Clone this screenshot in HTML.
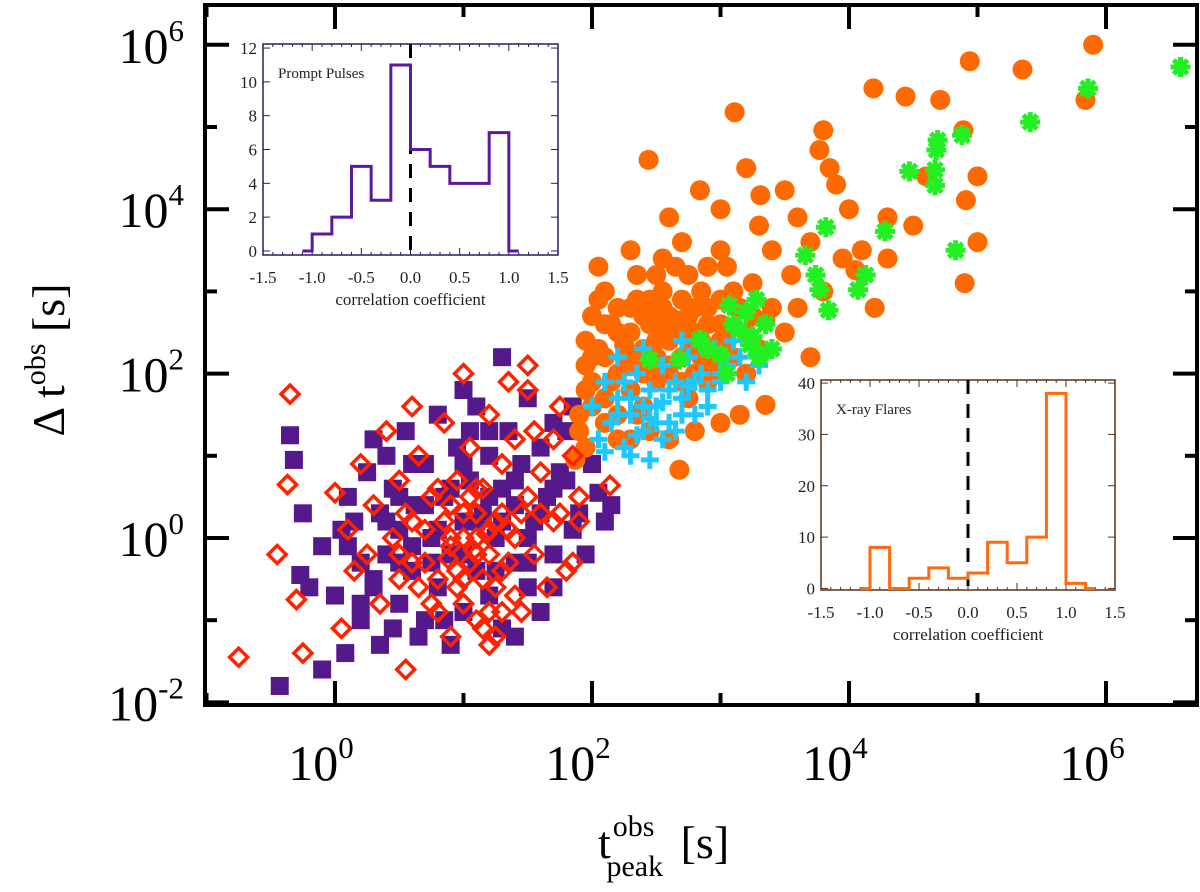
<!DOCTYPE html>
<html><head><meta charset="utf-8"><style>
html,body{margin:0;padding:0;background:#fff;}
svg{display:block;font-family:"Liberation Serif",serif;}
</style></head><body>
<svg id="chart" width="1200" height="892" viewBox="0 0 1200 892" xmlns="http://www.w3.org/2000/svg">
<g id="marks"></g>
<rect x="205" y="5" width="992" height="700" fill="none" stroke="#000" stroke-width="4"/>
<g id="axes"></g>
<text transform="translate(64,360) rotate(-90)" font-size="46" text-anchor="middle">Δ t<tspan font-size="30" dy="-19">obs</tspan><tspan dy="19"> [s]</tspan></text>
<text x="598" y="858" font-size="46">t<tspan font-size="30" dx="2" dy="-22">obs</tspan><tspan font-size="30" dx="-48" dy="40">peak</tspan><tspan dy="-18" dx="6"> [s]</tspan></text>
<g id="inset1"></g>
<g id="inset2"></g>
</svg>
<script>
// log10 values [log t_peak, log Δt]
const purplePulses=[[-0.35,1.25],[-0.32,0.95],[-0.43,-1.8],[-0.27,-0.45],[-0.1,-1.6],[-0.2,-0.6],[0.08,-1.4],[0.1,-0.1],[0.1,0.5],[0.15,0.2],[0.2,-0.3],[0.25,0.8],[0.3,-0.6],[0.35,0.3],[0.4,1.0],[0.4,-0.2],[0.45,0.6],[0.5,-0.8],[0.5,0.1],[0.55,1.3],[0.6,-0.4],[0.62,0.4],[0.7,0.9],[0.7,-1.0],[0.75,0.0],[0.8,1.5],[0.8,-0.6],[0.85,0.5],[0.9,-0.2],[0.95,1.1],[1.0,0.2],[1.0,-0.9],[1.05,0.7],[1.1,-0.4],[1.1,1.6],[1.15,0.3],[1.2,-0.7],[1.2,1.0],[1.25,0.0],[1.3,0.6],[1.3,-1.1],[1.35,1.3],[1.4,-0.3],[1.4,0.4],[1.45,0.9],[1.5,-0.6],[1.5,1.7],[1.55,0.2],[1.6,-0.9],[1.6,1.1],[1.65,0.5],[1.7,-0.2],[1.75,0.8],[1.8,1.3],[1.85,0.1],[1.3,2.2],[0.65,-1.2],[0.9,-1.3],[0.3,1.2],[0.0,-0.7],[0.2,-1.0],[1.0,1.8],[0.45,-1.1],
[0.3,-0.5],[0.4,0.2],[0.5,0.5],[0.6,-0.1],[0.7,0.4],[0.8,0.1],[0.9,0.6],[1.0,0.9],[1.1,0.2],[1.2,0.5],[1.3,0.2],[1.4,0.7],[1.5,0.0],[1.6,0.3],[1.7,0.6],[1.8,0.7],[1.9,0.3],[2.0,0.9],[2.1,0.2],[2.15,0.4],[0.5,-0.3],[0.75,-0.3],[1.0,-0.2],[1.25,-0.4],[1.5,-0.3],[1.7,-0.6],[0.2,-0.8],[0.35,-1.3],[1.85,1.6],[1.7,1.4],[1.2,1.3],[0.05,0.1],[-0.25,0.3],[-0.1,-0.1],[1.95,-0.2],[1.4,-1.2],[0.85,-1.0],[2.05,0.55],[0.6,0.9],[1.05,1.3]];
const redPulses=[[-0.75,-1.45],[-0.35,1.75],[-0.37,0.65],[-0.45,-0.2],[-0.3,-0.75],[-0.25,-1.4],[0.0,0.55],[0.05,-1.1],[0.1,0.1],[0.15,-0.4],[0.2,0.9],[0.25,-0.2],[0.3,0.4],[0.35,-0.8],[0.4,1.3],[0.45,0.0],[0.5,-0.5],[0.5,0.7],[0.55,-1.6],[0.6,0.2],[0.65,1.0],[0.7,-0.3],[0.75,0.5],[0.8,-0.9],[0.85,1.4],[0.9,0.0],[0.95,0.7],[1.0,-0.5],[1.0,0.3],[1.05,1.1],[1.1,-0.2],[1.1,0.6],[1.15,-1.1],[1.2,0.1],[1.2,1.5],[1.25,-0.6],[1.3,0.9],[1.3,0.3],[1.35,-0.3],[1.4,1.2],[1.45,-0.9],[1.5,0.5],[1.5,1.8],[1.55,-0.2],[1.6,0.8],[1.65,-0.6],[1.7,1.2],[1.7,0.2],[1.8,-0.4],[1.85,1.0],[1.9,0.5],[1.5,2.1],[1.2,-1.3],[0.9,-1.2],[1.0,2.0],[0.6,1.6],[1.35,1.9],[1.75,1.6],[1.1,0.0],
[0.6,-0.3],[0.7,0.1],[0.8,-0.5],[0.85,0.2],[0.9,-0.1],[0.95,-0.6],[1.0,0.0],[1.05,-0.3],[1.1,0.3],[1.15,-0.5],[1.2,-0.2],[1.25,0.2],[1.3,-0.4],[1.35,0.1],[1.4,-0.7],[1.45,0.3],[0.75,-0.8],[0.9,0.4],[1.0,-0.8],[1.1,-1.0],[1.2,-0.9],[1.3,-0.9],[1.15,0.6],[0.8,0.6],[0.55,0.3],[0.65,-0.6],[1.05,0.5],[1.25,-1.2],[1.4,0.0],[0.95,-0.4],[1.08,-0.15],[0.88,-0.25],[1.18,0.05],[0.5,-0.2],[1.6,0.3],[1.75,0.3],[1.85,-0.3],[1.55,1.3],[1.9,0.2],[2.14,0.64]];
const orangeFlares=[[5.9,6.0],[5.35,5.7],[5.84,5.33],[4.94,5.8],[4.44,5.37],[4.19,5.47],[4.71,5.33],[4.89,4.96],[4.91,4.11],[4.05,3.26],[3.77,4.72],[3.8,4.96],[3.85,4.5],[3.11,5.18],[2.44,4.6],[3.5,4.23],[3.31,4.17],[2.84,4.23],[3.0,4.0],[3.2,4.5],[2.6,3.9],[2.7,3.6],[3.6,3.9],[3.9,4.3],[4.3,3.9],[4.6,4.4],[4.0,4.0],[3.4,3.5],[2.9,3.3],[2.5,3.2],[2.3,3.5],[2.1,3.0],[1.95,2.4],[2.0,2.7],[2.1,2.2],[2.2,2.5],[2.3,2.8],[2.4,2.3],[2.5,2.7],[2.6,2.4],[2.7,2.9],[2.8,2.5],[2.9,2.8],[3.0,2.6],[3.1,3.0],[2.2,2.0],[2.3,1.8],[2.4,1.6],[2.5,1.9],[2.6,2.1],[2.7,2.2],[2.8,2.0],[2.9,2.3],[3.0,2.2],[3.2,2.5],[3.35,2.65],[3.35,1.62],[2.68,0.83],[1.87,0.95],[1.9,1.3],[2.0,1.6],[2.1,1.4],[2.0,1.9],[2.2,1.2],[2.35,2.2],[2.45,2.9],[2.55,3.0],[2.75,2.7],[2.85,3.0],[3.05,3.3],[3.15,2.8],[3.25,3.1],[2.65,3.3],[2.15,2.6],[1.95,2.1],[2.05,2.9],[2.75,1.7],[2.9,1.9],[2.35,1.5],[3.55,3.2],[3.7,3.6],[4.1,3.5],[4.5,3.8],[5.0,4.4],[3.95,3.4],[2.55,2.5],[2.25,2.35],[2.45,2.05],[2.65,2.65],[2.85,2.4],
[1.9,1.5],[1.95,1.8],[2.05,2.3],[2.1,2.6],[2.15,1.9],[2.2,2.8],[2.25,2.2],[2.3,2.5],[2.35,2.9],[2.4,2.0],[2.45,2.6],[2.5,2.2],[2.55,2.8],[2.6,2.0],[2.65,2.5],[2.7,1.9],[2.75,2.4],[2.8,2.8],[2.85,2.2],[2.9,2.6],[2.95,2.0],[3.0,2.9],[3.05,2.4],[3.1,2.2],[3.2,2.0],[3.25,2.7],[3.3,2.3],[3.4,2.8],[3.5,2.5],[2.0,2.2],[2.1,1.7],[2.2,1.5],[2.3,2.1],[2.4,2.7],[2.5,2.4],[2.6,2.7],[2.7,2.6],[2.8,2.3],[2.9,2.1],[3.0,2.4],[2.45,1.3],[2.6,1.2],[2.8,1.3],[3.0,1.4],[3.15,1.5],[2.3,1.2],[1.95,1.1],[2.05,3.3],[2.35,3.2],[2.55,3.4],[2.75,3.2],[3.0,3.5],[3.3,3.8],[3.6,2.8],[3.7,2.2],[3.8,3.0],[4.2,2.8],[4.3,3.4],[4.9,3.1],[5.0,3.6]];
const cyanFlares=[[2.0,1.6],[2.05,1.2],[2.1,1.9],[2.15,1.4],[2.2,1.7],[2.25,1.1],[2.3,1.5],[2.35,2.0],[2.4,1.3],[2.45,1.8],[2.5,1.6],[2.55,2.1],[2.6,1.4],[2.65,1.9],[2.7,1.7],[2.75,2.2],[2.8,1.5],[2.85,2.0],[2.9,1.8],[2.95,2.3],[3.0,1.9],[3.05,2.1],[3.1,2.4],[2.2,2.2],[2.3,1.0],[2.45,0.95],[2.55,1.2],[2.1,1.05],[2.4,2.3],[2.7,2.4],
[2.2,1.5],[2.3,1.7],[2.4,1.6],[2.5,1.4],[2.6,1.8],[2.7,1.5],[2.8,1.9],[2.9,1.6],[3.0,2.0],[2.35,1.25],[2.55,1.65],[2.65,1.3],[2.45,1.45],[2.75,1.85],[3.15,2.2],[3.3,2.1],[2.25,1.9],[2.85,2.35],[3.2,1.9]];
const greenFlares=[[6.58,5.73],[5.86,5.47],[5.41,5.06],[4.88,4.9],[4.69,4.84],[4.68,4.72],[4.67,4.48],[4.67,4.29],[4.47,4.46],[4.28,3.73],[4.83,3.5],[3.82,3.78],[3.66,3.44],[3.74,3.2],[3.77,3.02],[3.84,2.77],[4.07,3.02],[4.13,3.2],[3.07,2.83],[3.15,2.53],[3.23,2.35],[3.31,2.23],[2.84,2.41],[2.68,2.17],[2.45,2.17],[3.0,2.23],
[3.1,2.6],[3.25,2.45],[3.3,2.2],[3.2,2.75],[3.4,2.3],[3.35,2.6],[2.9,2.3],[3.05,2.0],[3.28,2.9]];
const xTickExps=[0,2,4,6];
const yTickExps=[-2,0,2,4,6];
const histBinsPrompt=[-1.1,-1.0,-0.8,-0.6,-0.4,-0.2,0.0,0.2,0.4,0.6,0.8,1.0,1.1];
const histCountsPrompt=[0,1,2,5,3,11,6,5,4,4,7,0];
const histBinsXray=[-1.1,-1.0,-0.8,-0.6,-0.4,-0.2,0.0,0.2,0.4,0.6,0.8,1.0,1.2,1.3];
const histCountsXray=[0,8,0,2,4,2,3,9,5,10,38,1,0];
const insetXTicks=["-1.5","-1.0","-0.5","0.0","0.5","1.0","1.5"];
const promptYTicks=[0,2,4,6,8,10,12];
const xrayYTicks=[0,10,20,30,40];

const NS="http://www.w3.org/2000/svg";
function mk(tag,attrs,parent){const e=document.createElementNS(NS,tag);for(const k in attrs)e.setAttribute(k,attrs[k]);parent.appendChild(e);return e;}
const X=lx=>335+128.5*lx;
const Y=ly=>538-82.2*ly;
const marks=document.getElementById('marks');
purplePulses.forEach(p=>{const e=mk('rect',{x:X(p[0])-9,y:Y(p[1])-9,width:18,height:18,fill:'#55198b'},marks);

});
orangeFlares.forEach(p=>{const e=mk('circle',{cx:X(p[0]),cy:Y(p[1]),r:10,fill:'#ff6a00'},marks);

});
redPulses.forEach(p=>{const x=X(p[0]),y=Y(p[1]);const e=mk('polygon',{points:`${x},${y-9} ${x+9},${y} ${x},${y+9} ${x-9},${y}`,fill:'none',stroke:'#ff2200','stroke-width':3.5},marks);

});
cyanFlares.forEach(p=>{const x=X(p[0]),y=Y(p[1]);const e=mk('path',{d:`M${x-9},${y}H${x+9}M${x},${y-9}V${y+9}`,stroke:'#1ec8ff','stroke-width':5},marks);

});
greenFlares.forEach(p=>{const x=X(p[0]),y=Y(p[1]);const d=`M${x-10},${y}H${x+10}M${x},${y-10}V${y+10}M${x-7},${y-7}L${x+7},${y+7}M${x-7},${y+7}L${x+7},${y-7}`;const e=mk('path',{d:d,stroke:'#22f022','stroke-width':5},marks);

});

const axes=document.getElementById('axes');
for(let d=-1;d<=6;d++){const x=X(d);const L=d%2===0?24:12;
mk('line',{x1:x,y1:705,x2:x,y2:705-L,stroke:'#000','stroke-width':4},axes);
mk('line',{x1:x,y1:5,x2:x,y2:5+L,stroke:'#000','stroke-width':4},axes);}
for(let d=-2;d<=6;d++){const y=Y(d);const L=d%2===0?24:12;
mk('line',{x1:205,y1:y,x2:205+L,y2:y,stroke:'#000','stroke-width':4},axes);
mk('line',{x1:1197,y1:y,x2:1197-L,y2:y,stroke:'#000','stroke-width':4},axes);}
xTickExps.forEach(d=>{const t=mk('text',{x:X(d)-14,y:780,'font-size':50,'text-anchor':'middle'},axes);t.innerHTML=`10<tspan font-size="31" dy="-22">${d}</tspan>`;

});
yTickExps.forEach(d=>{const t=mk('text',{x:184,y:Y(d)+18,'font-size':50,'text-anchor':'end'},axes);t.innerHTML=`10<tspan font-size="31" dy="-22">${d}</tspan>`;

});

function inset(g,box,ymin,ymax,bins,counts,yticks,color,frame,label){
 const gx=v=>box.x+(v+1.5)/3*box.w, gy=v=>box.y+box.h-(v-ymin)/(ymax-ymin)*box.h;
 mk('rect',{x:box.x,y:box.y,width:box.w,height:box.h,fill:'#fff',stroke:frame,'stroke-width':1.5},g);
 for(let v=-1.5;v<=1.501;v+=0.1){const x=gx(v);const L=Math.abs(v*2-Math.round(v*2))<0.01?7:3;
  mk('line',{x1:x,y1:box.y+box.h,x2:x,y2:box.y+box.h-L,stroke:frame,'stroke-width':1},g);
  mk('line',{x1:x,y1:box.y,x2:x,y2:box.y+L,stroke:frame,'stroke-width':1},g);}
 insetXTicks.forEach(s=>{const t=mk('text',{x:gx(parseFloat(s)),y:box.y+box.h+28,'font-size':17,'text-anchor':'middle',fill:'#222'},g);t.textContent=s;
  
  });
 yticks.forEach(v=>{const y=gy(v);mk('line',{x1:box.x,y1:y,x2:box.x+7,y2:y,stroke:frame},g);mk('line',{x1:box.x+box.w,y1:y,x2:box.x+box.w-7,y2:y,stroke:frame},g);
  const t=mk('text',{x:box.x-6,y:y+6,'font-size':17,'text-anchor':'end',fill:'#222'},g);t.textContent=v;
  
  });
 const t2=mk('text',{x:box.x+box.w/2,y:box.y+box.h+50,'font-size':17,'text-anchor':'middle',fill:'#222'},g);t2.textContent='correlation coefficient';
 
 
 const t3=mk('text',{x:box.x+15,y:box.y+34,'font-size':15,fill:'#222'},g);t3.textContent=label;
 
 
 mk('line',{x1:gx(0),y1:box.y,x2:gx(0),y2:box.y+box.h,stroke:'#000','stroke-width':3,'stroke-dasharray':'14,10'},g);
 let d=`M${gx(bins[0])},${gy(0)}`;
 counts.forEach((c,i)=>{d+=`V${gy(c)}H${gx(bins[i+1])}`;}); d+=`V${gy(0)}`;
 const h=mk('path',{d:d,fill:'none',stroke:color,'stroke-width':3},g);
 
 
}
inset(document.getElementById('inset1'),{x:263,y:44,w:295,h:211},-0.24,12.24,histBinsPrompt,histCountsPrompt,promptYTicks,'#5a1a9e','#301860','Prompt Pulses');
inset(document.getElementById('inset2'),{x:821,y:380,w:294,h:210},-0.3,40.6,histBinsXray,histCountsXray,xrayYTicks,'#ff6a10','#5a3010','X-ray Flares');
</script>
</body></html>
